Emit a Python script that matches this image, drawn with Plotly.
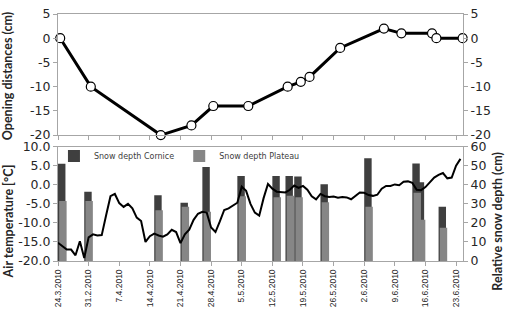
import plotly.graph_objects as go
import pandas as pd

# ---- data ----
tick_dates = ["2010-03-24", "2010-03-31", "2010-04-07", "2010-04-14", "2010-04-21",
              "2010-04-28", "2010-05-05", "2010-05-12", "2010-05-19", "2010-05-26",
              "2010-06-02", "2010-06-09", "2010-06-16", "2010-06-23"]
tick_labels = ["24.3.2010", "31.2.2010", "7.4.2010", "14.4.2010", "21.4.2010",
               "28.4.2010", "5.5.2010", "12.5.2010", "19.5.2010", "26.5.2010",
               "2.6.2010", "9.6.2010", "16.6.2010", "23.6.2010"]

open_dates = ["2010-03-24", "2010-03-31", "2010-04-16", "2010-04-23", "2010-04-28",
              "2010-05-06", "2010-05-15", "2010-05-18", "2010-05-20", "2010-05-27",
              "2010-06-06", "2010-06-10", "2010-06-17", "2010-06-18", "2010-06-24"]
open_cm = [0, -10, -20, -18, -14, -14, -10, -9, -8, -2, 2, 1, 1, 0, 0]

temp_start = "2010-03-24"
temp_c = [-15.2, -16.0, -17.0, -17.0, -18.5, -14.8, -19.2, -13.8, -13.0, -13.3,
          -13.2, -8.0, -3.0, -2.4, -4.8, -5.8, -5.0, -6.2, -8.6, -9.5,
          -15.0, -13.5, -12.8, -13.3, -13.6, -13.0, -11.8, -12.4, -15.3, -13.0,
          -11.8, -9.2, -7.6, -7.1, -7.3, -11.2, -12.4, -9.6, -6.6, -6.2,
          -5.5, -4.7, -0.5, -1.6, -5.0, -7.3, -8.1, -3.5, 0.2, -1.0,
          -1.8, -2.0, -2.0, -1.3, -0.2, -0.8, -0.3, -1.3, -3.0, -3.8,
          -2.4, -3.0, -3.2, -3.1, -3.4, -3.2, -3.3, -3.8, -3.0, -2.0,
          -2.1, -2.7, -2.9, -2.6, -1.0, -0.3, -0.3, 0.1, -0.1, 0.8,
          0.9, 0.5, -1.3, -1.4, -0.6, 0.6, 1.9, 2.6, 3.1, 1.7,
          1.9, 5.0, 6.8]
temp_dates = pd.date_range(temp_start, periods=len(temp_c), freq="D")

snow_dates = ["2010-03-24", "2010-03-30", "2010-04-15", "2010-04-21", "2010-04-26",
              "2010-05-04", "2010-05-12", "2010-05-15", "2010-05-17", "2010-05-23",
              "2010-06-02", "2010-06-13", "2010-06-14", "2010-06-19"]
snow_cornice = [51.0, 36.4, 34.5, 30.6, 49.3, 44.6, 44.6, 44.6, 44.4, 40.3, 53.9, 51.2, 41.3, 28.5]
snow_plateau = [31.5, 31.5, 26.7, 28.5, 25.8, 34.0, 33.5, 34.3, 33.5, 30.8, 28.5, 35.8, 21.7, 17.4]

open_ticks = [5, 0, -5, -10, -15, -20]
open_ticktext = ["5", "0", "-5", "-10", "-15", "-20"]
temp_ticks = [10, 5, 0, -5, -10, -15, -20]
temp_ticktext = ["10.0", "5.0", "0.0", "-5.0", "-10.0", "-15.0", "-20.0"]
snow_ticks = [0, 10, 20, 30, 40, 50, 60]

DAY = 86400000
AX = "#a6a6a6"
TXT = "#262626"

fig = go.Figure()

fig.add_trace(go.Bar(x=snow_dates, y=snow_cornice, name="Snow depth Cornice",
                     marker=dict(color="#3f3f3f", line=dict(width=0)),
                     width=1.7 * DAY, offset=0, xaxis="x", yaxis="y"))
fig.add_trace(go.Bar(x=snow_dates, y=snow_plateau, name="Snow depth Plateau",
                     marker=dict(color="#868686", line=dict(width=0)),
                     width=1.7 * DAY, offset=0.27 * DAY, xaxis="x", yaxis="y"))
fig.add_trace(go.Scatter(x=temp_dates, y=temp_c, mode="lines", showlegend=False,
                         line=dict(color="black", width=2), xaxis="x", yaxis="y2"))

fig.add_trace(go.Scatter(x=open_dates, y=open_cm, mode="lines+markers", showlegend=False,
                         xperiod=DAY, xperiodalignment="middle", cliponaxis=False,
                         line=dict(color="black", width=3),
                         marker=dict(size=9, color="white", line=dict(color="black", width=1.2)),
                         xaxis="x2", yaxis="y3"))
fig.add_trace(go.Scatter(x=open_dates, y=open_cm, mode="lines", showlegend=False,
                         opacity=0, hoverinfo="skip", xaxis="x2", yaxis="y4"))

common_x = dict(type="date", range=["2010-03-24", "2010-06-24 14:00"],
                tickvals=tick_dates, ticktext=tick_labels,
                ticks="outside", ticklen=4, tickcolor=AX, showline=True, linecolor=AX,
                linewidth=1, mirror=True, showgrid=False, zeroline=False)
common_y = dict(ticks="outside", ticklen=4, tickcolor=AX, showline=True, linecolor=AX,
                linewidth=1, showgrid=False, zeroline=False,
                tickfont=dict(size=12.5, family="DejaVu Sans", color=TXT))

fig.update_layout(
    width=507, height=314,
    margin=dict(l=58, r=44, t=6, b=53),
    paper_bgcolor="white", plot_bgcolor="white",
    font=dict(family="Lato", color=TXT),
    barmode="overlay",
    xaxis=dict(domain=[0, 1], anchor="y", tickangle=-90,
               tickfont=dict(size=8.5, family="Liberation Sans", color=TXT), **common_x),
    xaxis2=dict(domain=[0, 1], anchor="y3", matches="x", showticklabels=False, **common_x),
    yaxis=dict(domain=[0, 0.4627], side="right", range=[0, 60],
               tickvals=snow_ticks, **common_y),
    yaxis2=dict(overlaying="y", side="left", range=[-20, 10],
                tickvals=temp_ticks, ticktext=temp_ticktext, **common_y),
    yaxis3=dict(domain=[0.5098, 1], anchor="x2", side="left", range=[-20, 5],
                tickvals=open_ticks, ticktext=open_ticktext, **common_y),
    yaxis4=dict(overlaying="y3", anchor="x2", side="right", range=[-20, 5],
                tickvals=open_ticks, ticktext=open_ticktext, **common_y),
    legend=dict(orientation="h", x=-0.01, xanchor="left", y=0.425, yanchor="middle",
                font=dict(size=8, family="DejaVu Sans", color="#404040"),
                bgcolor="rgba(0,0,0,0)", traceorder="normal"),
    annotations=[
        dict(text="<b>Opening distances (cm)</b>", xref="paper", yref="paper",
             x=-0.123, y=0.749, xanchor="center", yanchor="middle", textangle=-90,
             showarrow=False, font=dict(size=12.5, color=TXT)),
        dict(text="<b>Air temperature [°C]</b>", xref="paper", yref="paper",
             x=-0.123, y=0.161, xanchor="center", yanchor="middle", textangle=-90,
             showarrow=False, font=dict(size=12.5, color=TXT)),
        dict(text="<b>Relative snow depth (cm)</b>", xref="paper", yref="paper",
             x=1.085, y=0.161, xanchor="center", yanchor="middle", textangle=-90,
             showarrow=False, font=dict(size=12.5, color=TXT)),
    ],
)

fig.write_html("out.html")
